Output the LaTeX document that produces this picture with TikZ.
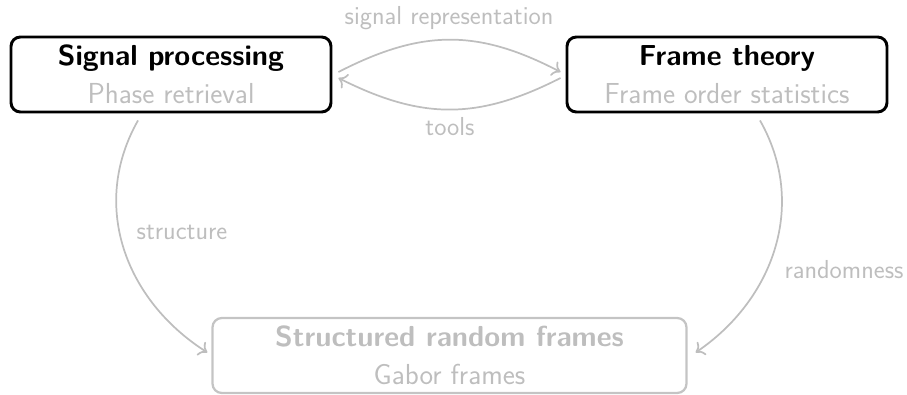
\documentclass[tikz,border=0pt]{standalone}
\usetikzlibrary{arrows.meta}
\definecolor{lightgr}{RGB}{190,190,190}
\definecolor{boxgr}{RGB}{196,196,196}
\begin{document}
\begin{tikzpicture}[x=0.75pt,y=-0.75pt,
  topicbox/.style={draw=black, line width=2.2pt, rounded corners=7pt, align=center,
    inner sep=0pt, minimum height=56.25pt,
    font=\sffamily\fontsize{21.7}{28.5}\selectfont},
  grbox/.style={topicbox, draw=boxgr, line width=1.7pt, text=lightgr},
  link/.style={draw=lightgr, line width=1.3pt,
    -{Computer Modern Rightarrow[length=6pt,width=12pt]}},
  lbl/.style={text=lightgr, font=\sffamily\fontsize{19.5}{22}\selectfont, inner sep=0pt}]
\useasboundingbox (0,0) rectangle (907,394);
\node[topicbox, minimum width=240pt] (sp) at (171,74.5)
  {\bfseries Signal processing\\{\color{lightgr}Phase retrieval}};
\node[topicbox, minimum width=240pt] (ft) at (727,74.5)
  {\bfseries Frame theory\\{\color{lightgr}Frame order statistics}};
\node[grbox, minimum width=355.5pt] (srf) at (449.5,355.5)
  {\bfseries Structured random frames\\Gabor frames};
% top arcs
\draw[link] ([shift={(6,-2.5)}]sp.east) .. controls (422,29) and (478,29) .. ([shift={(-5,-2.5)}]ft.west)
  node[lbl] at (449,18) {signal representation};
\draw[link] ([shift={(-5,3.5)}]ft.west) .. controls (478,120) and (422,120) .. ([shift={(6,3.5)}]sp.east)
  node[lbl] at (450,127) {tools};
% side arcs
\draw[link] ([shift={(-33,7)}]sp.south) .. controls (90,205) and (125,300) .. ([shift={(-4,-3)}]srf.west)
  node[lbl] at (182,232) {structure};
\draw[link] ([shift={(33,7)}]ft.south) .. controls (808,205) and (773,300) .. ([shift={(8,-3)}]srf.east)
  node[lbl] at (844,270) {randomness};
\end{tikzpicture}
\end{document}
